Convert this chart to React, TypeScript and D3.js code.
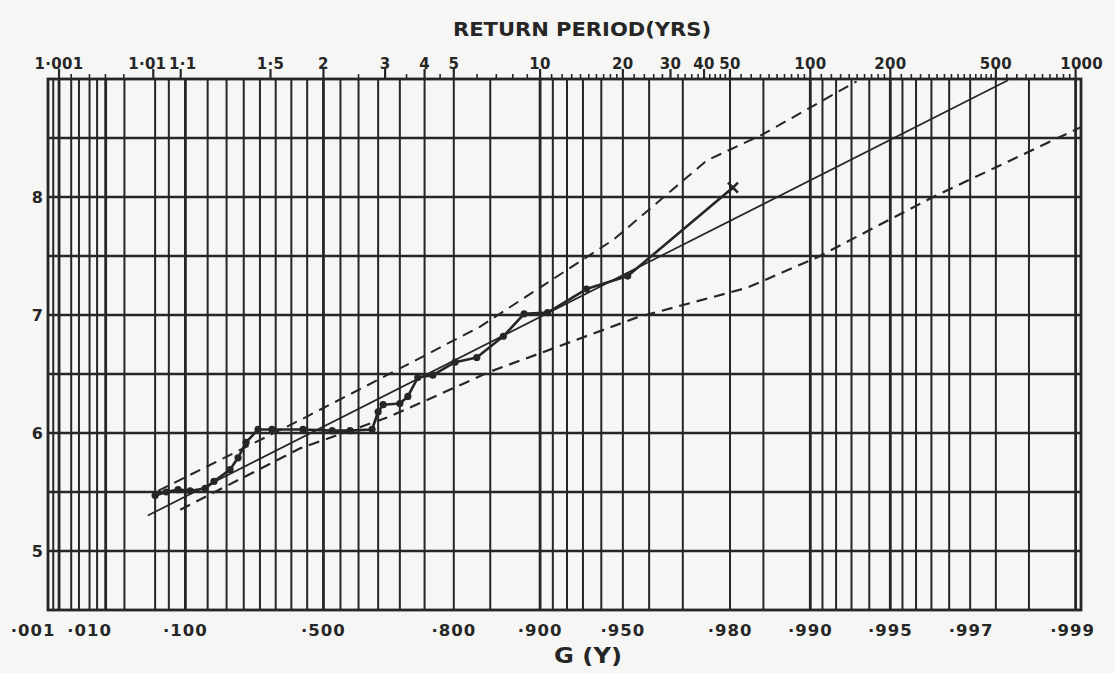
import React, { useEffect, useRef } from "react";
import * as d3 from "d3";

// Gumbel (extreme value) probability paper: x axis is G(Y) on the reduced-variate scale
const gridProbs = [
  0.0007, 0.001, 0.002, 0.003, 0.005, 0.007, 0.01, 0.02, 0.05, 0.07, 0.1, 0.15, 0.2, 0.25,
  0.3, 0.35, 0.4, 0.45, 0.5, 0.55, 0.6, 0.65, 0.7, 0.75, 0.8, 0.85, 0.9, 0.91, 0.92, 0.93,
  0.94, 0.95, 0.96, 0.97, 0.98, 0.985, 0.99, 0.991, 0.992, 0.993, 0.994, 0.995, 0.9955,
  0.996, 0.9965, 0.997, 0.9975, 0.998, 0.9985, 0.999,
];
const majorProbs = [0.001, 0.01, 0.1, 0.5, 0.9, 0.99, 0.995, 0.999];

const probTicks = [0.001, 0.01, 0.1, 0.5, 0.8, 0.9, 0.95, 0.98, 0.99, 0.995, 0.997, 0.999];
const probLabels = ["·001", "·010", "·100", "·500", "·800", "·900", "·950", "·980", "·990", "·995", "·997", "·999"];

const periodTicks = [1.001, 1.05, 1.1, 1.5, 2, 3, 4, 5, 10, 20, 30, 40, 50, 100, 200, 500, 1000];
const periodLabels = ["1·001", "1·01", "1·1", "1·5", "2", "3", "4", "5", "10", "20", "30", "40", "50", "100", "200", "500", "1000"];
const periodMinor = [
  1.002, 1.005, 1.01, 1.02, 2.5, 3.5, 4.5, 6, 7, 8, 9,
  11, 12, 13, 14, 15, 16, 17, 18, 19, 22, 24, 26, 28, 32, 34, 36, 38, 42, 44, 46, 48,
  55, 60, 65, 70, 75, 80, 85, 90, 95, 110, 120, 130, 140, 150, 160, 170, 180, 190,
  220, 240, 260, 280, 300, 320, 340, 360, 380, 400, 420, 440, 460, 480,
  550, 600, 650, 700, 750, 800, 850, 900, 950,
];

const valueLines = [5, 5.5, 6, 6.5, 7, 7.5, 8, 8.5];
const valueTicks = [5, 6, 7, 8];

// observed annual maxima (plotting position G, value)
const observedG = [
  0.05, 0.066, 0.086, 0.11, 0.144, 0.166, 0.21, 0.233, 0.257, 0.294, 0.338, 0.437, 0.526,
  0.577, 0.635, 0.65, 0.662, 0.7, 0.717, 0.737, 0.765, 0.802, 0.833, 0.865, 0.886, 0.906,
  0.932, 0.952, 0.9805,
];
const observedV = [
  5.47, 5.5, 5.52, 5.51, 5.53, 5.59, 5.69, 5.79, 5.92, 6.03, 6.03, 6.03, 6.02, 6.02, 6.03,
  6.18, 6.24, 6.25, 6.31, 6.47, 6.49, 6.6, 6.64, 6.82, 7.01, 7.02, 7.22, 7.33, 8.08,
];

// fitted Gumbel line
const fitG = [0.041, 0.9982];
const fitV = [5.3, 8.99];

// confidence limits
const upperG = [0.054, 0.428, 0.655, 0.837, 0.946, 0.9756, 0.9849, 0.9933];
const upperV = [5.51, 6.11, 6.46, 6.9, 7.64, 8.31, 8.53, 8.98];
const lowerG = [0.09, 0.428, 0.678, 0.85, 0.9557, 0.9827, 0.9906, 0.99655, 0.99904];
const lowerV = [5.35, 5.87, 6.14, 6.52, 6.98, 7.23, 7.49, 8.0, 8.59];

const W = 1115;
const H = 673;
const INK = "#262626";
const FONT = "'DejaVu Sans', sans-serif";

const reduced = (g: number) => -Math.log(-Math.log(g));

export default function App() {
  const svgRef = useRef<SVGSVGElement | null>(null);

  useEffect(() => {
    const svg = d3.select(svgRef.current);
    svg.selectAll("*").remove();

    const x = d3.scaleLinear().domain([-2.0287, 6.954]).range([48, 1081]);
    const y = d3.scaleLinear().domain([4.5, 9]).range([610, 79]);
    const gx = (g: number) => x(reduced(g));
    const tx = (t: number) => gx(1 - 1 / t);

    const [left, right] = x.range();
    const [bottom, top] = y.range();

    svg.append("rect").attr("width", W).attr("height", H).attr("fill", "#f6f6f4");

    const grid = svg.append("g").attr("stroke", INK).attr("fill", "none");

    grid.selectAll(".vline")
      .data(gridProbs)
      .enter()
      .append("line")
      .attr("x1", d => gx(d))
      .attr("x2", d => gx(d))
      .attr("y1", top)
      .attr("y2", bottom)
      .attr("stroke-width", d => (majorProbs.includes(d) ? 2.8 : 2));

    grid.selectAll(".hline")
      .data(valueLines)
      .enter()
      .append("line")
      .attr("x1", left)
      .attr("x2", right)
      .attr("y1", d => y(d))
      .attr("y2", d => y(d))
      .attr("stroke-width", 2.4);

    grid.append("rect")
      .attr("x", left)
      .attr("y", top)
      .attr("width", right - left)
      .attr("height", bottom - top)
      .attr("stroke-width", 2.8);

    // return period axis along the top
    grid.selectAll(".tminor")
      .data(periodMinor)
      .enter()
      .append("line")
      .attr("x1", d => tx(d))
      .attr("x2", d => tx(d))
      .attr("y1", top - 5)
      .attr("y2", top)
      .attr("stroke-width", 1.6);

    grid.selectAll(".tmajor")
      .data(periodTicks)
      .enter()
      .append("line")
      .attr("x1", d => tx(d))
      .attr("x2", d => tx(d))
      .attr("y1", top - 10)
      .attr("y2", top)
      .attr("stroke-width", 2.2);

    const labels = svg.append("g")
      .attr("fill", INK)
      .style("font-family", FONT)
      .style("font-weight", "bold");

    labels.selectAll(".tlabel")
      .data(periodTicks)
      .enter()
      .append("text")
      .attr("x", d => tx(d) + (d === 1.05 ? -6 : d === 1.1 ? 2 : d === 1000 ? 6 : 0))
      .attr("y", 69)
      .attr("text-anchor", "middle")
      .style("font-size", "15px")
      .style("letter-spacing", "0.3px")
      .text((d, i) => periodLabels[i]);

    labels.selectAll(".glabel")
      .data(probTicks)
      .enter()
      .append("text")
      .attr("x", d => gx(d) + (d < 0.005 ? -26 : d < 0.05 ? -16 : d > 0.996 && d < 0.998 ? 22 : d > 0.998 ? -3 : 0))
      .attr("y", 636)
      .attr("text-anchor", "middle")
      .style("font-size", "16.5px")
      .style("letter-spacing", "1px")
      .text((d, i) => probLabels[i]);

    labels.selectAll(".vlabel")
      .data(valueTicks)
      .enter()
      .append("text")
      .attr("x", 43)
      .attr("y", d => y(d))
      .attr("dy", "0.36em")
      .attr("text-anchor", "end")
      .style("font-size", "16px")
      .text(d => d);

    labels.append("text")
      .attr("x", 582)
      .attr("y", 36)
      .attr("text-anchor", "middle")
      .attr("textLength", 258)
      .attr("lengthAdjust", "spacingAndGlyphs")
      .style("font-size", "20px")
      .text("RETURN PERIOD(YRS)");

    labels.append("text")
      .attr("x", 588)
      .attr("y", 663)
      .attr("text-anchor", "middle")
      .attr("textLength", 68)
      .attr("lengthAdjust", "spacingAndGlyphs")
      .style("font-size", "21px")
      .text("G (Y)");

    const line = d3.line<[number, number]>()
      .x(d => gx(d[0]))
      .y(d => y(d[1]));

    const zipped = (gs: number[], vs: number[]) => gs.map((g, i) => [g, vs[i]] as [number, number]);

    const plot = svg.append("g").attr("fill", "none").attr("stroke", INK);

    plot.append("path")
      .attr("d", line(zipped(upperG, upperV)))
      .attr("stroke-width", 2)
      .attr("stroke-dasharray", "11 7");

    plot.append("path")
      .attr("d", line(zipped(lowerG, lowerV)))
      .attr("stroke-width", 2.2)
      .attr("stroke-dasharray", "11 7");

    plot.append("path")
      .attr("d", line(zipped(fitG, fitV)))
      .attr("stroke-width", 1.7);

    const observed = zipped(observedG, observedV);

    plot.append("path")
      .attr("d", line(observed))
      .attr("stroke-width", 2.6)
      .attr("stroke-linejoin", "round");

    plot.selectAll(".pt")
      .data(observed.slice(0, -1))
      .enter()
      .append("circle")
      .attr("cx", d => gx(d[0]))
      .attr("cy", d => y(d[1]))
      .attr("r", 3.6)
      .attr("fill", INK)
      .attr("stroke", "none");

    const last = observed[observed.length - 1];
    const cx = gx(last[0]);
    const cy = y(last[1]);
    plot.append("path")
      .attr("d", `M${cx - 5},${cy - 5}L${cx + 5},${cy + 5}M${cx - 5},${cy + 5}L${cx + 5},${cy - 5}`)
      .attr("stroke-width", 2.6);
  }, []);

  return (
    <svg
      ref={svgRef}
      width={W}
      height={H}
      style={{ position: "absolute", left: 0, top: 0, display: "block" }}
    />
  );
}
